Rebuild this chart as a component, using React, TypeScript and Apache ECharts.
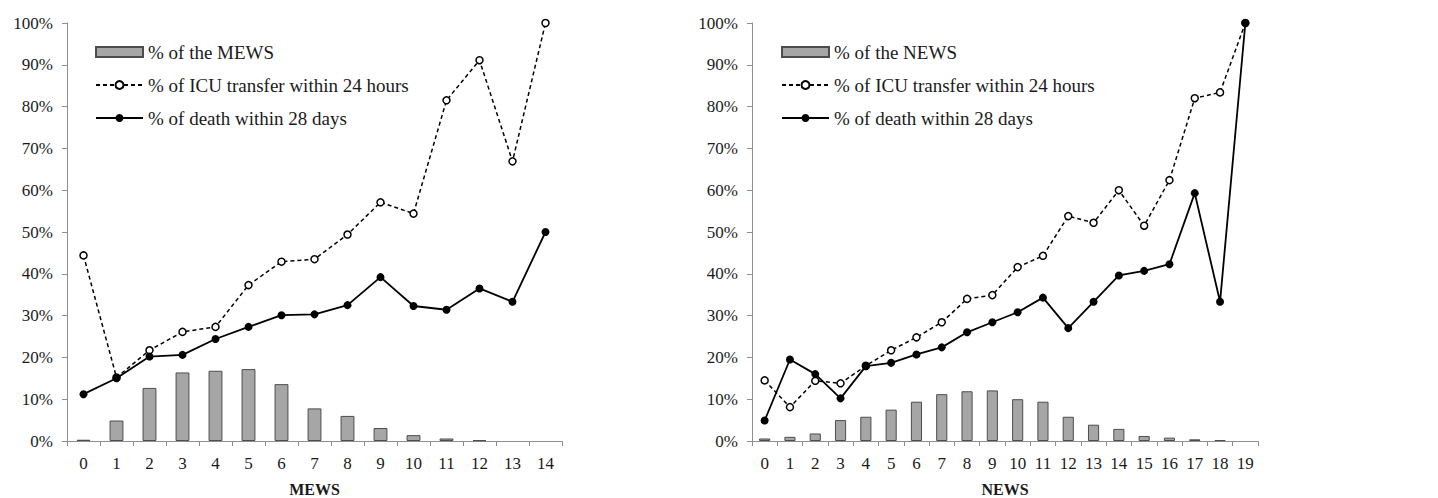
import React, { useEffect, useRef } from "react";
import * as echarts from "echarts";

const mewsCats = ["0","1","2","3","4","5","6","7","8","9","10","11","12","13","14"];
const mewsPct = [0.3, 4.9, 12.7, 16.4, 16.8, 17.2, 13.6, 7.8, 6.0, 3.1, 1.4, 0.6, 0.2, 0, 0];
const mewsIcu = [44.4, 15.2, 21.7, 26.1, 27.3, 37.3, 42.9, 43.5, 49.4, 57.1, 54.4, 81.5, 91.1, 66.9, 100];
const mewsDeath = [11.2, 15.0, 20.2, 20.6, 24.4, 27.3, 30.1, 30.3, 32.5, 39.2, 32.3, 31.4, 36.5, 33.3, 50];

const newsCats = ["0","1","2","3","4","5","6","7","8","9","10","11","12","13","14","15","16","17","18","19"];
const newsPct = [0.6, 1.0, 1.8, 5.0, 5.8, 7.5, 9.4, 11.2, 11.9, 12.1, 10.0, 9.4, 5.8, 3.9, 2.9, 1.2, 0.8, 0.4, 0.2, 0];
const newsIcu = [14.5, 8.1, 14.4, 13.8, 18.0, 21.7, 24.8, 28.4, 34.0, 34.9, 41.6, 44.3, 53.8, 52.2, 60.0, 51.5, 62.4, 82.0, 83.4, 100];
const newsDeath = [4.9, 19.5, 16.0, 10.2, 17.9, 18.7, 20.7, 22.4, 26.0, 28.4, 30.8, 34.3, 27.0, 33.3, 39.6, 40.7, 42.3, 59.3, 33.3, 100];

const yTicks = [0, 10, 20, 30, 40, 50, 60, 70, 80, 90, 100];

const FONT = "'Liberation Serif', 'Times New Roman', serif";
const AXIS_COLOR = "#8f8f8f";
const TEXT_COLOR = "#1a1a1a";

export default function App() {
  const ref = useRef<HTMLDivElement>(null);
  useEffect(() => {
    document.body.style.margin = "0";
    const chart = echarts.init(ref.current!, null, { renderer: "svg" });

    const xAxisBase = (cats: string[], name: string, gridIndex: number) => ({
      type: "category",
      gridIndex,
      data: cats,
      name,
      nameLocation: "middle",
      nameGap: 40,
      nameTextStyle: { fontFamily: FONT, fontSize: 16, fontWeight: "bold", color: TEXT_COLOR },
      axisLine: { lineStyle: { color: AXIS_COLOR, width: 1 } },
      axisTick: { show: true, length: 5, lineStyle: { color: AXIS_COLOR } },
      axisLabel: { fontFamily: FONT, fontSize: 17, color: TEXT_COLOR, margin: 14, interval: 0 },
      splitLine: { show: false },
    });
    const yAxisBase = (gridIndex: number) => ({
      type: "value",
      gridIndex,
      min: yTicks[0],
      max: yTicks[yTicks.length - 1],
      interval: 10,
      axisLine: { show: true, lineStyle: { color: AXIS_COLOR, width: 1 } },
      axisTick: { show: true, length: 5, lineStyle: { color: AXIS_COLOR } },
      axisLabel: { fontFamily: FONT, fontSize: 17, color: TEXT_COLOR, margin: 14, formatter: "{value}%" },
      splitLine: { show: false },
    });
    const barStyle = { color: "#a6a6a6", borderColor: "#4d4d4d", borderWidth: 1 };
    const barData = (arr: number[]) => arr.map((v) => (v === 0 ? null : v));
    const icuSeries = (data: number[], idx: number) => ({
      name: "% of ICU transfer within 24 hours",
      type: "line",
      xAxisIndex: idx,
      yAxisIndex: idx,
      data,
      symbol: "circle",
      symbolSize: 7,
      lineStyle: { color: "#000", width: 1.5, type: [4, 3] },
      itemStyle: { color: "#fff", borderColor: "#000", borderWidth: 1.5 },
      z: 3,
    });
    const deathSeries = (data: number[], idx: number) => ({
      name: "% of death within 28 days",
      type: "line",
      xAxisIndex: idx,
      yAxisIndex: idx,
      data,
      symbol: "circle",
      symbolSize: 8,
      lineStyle: { color: "#000", width: 1.8 },
      itemStyle: { color: "#000" },
      z: 4,
    });
    const legendBase = (left: number, barName: string) => ({
      orient: "vertical",
      left,
      top: 37,
      itemWidth: 47,
      itemHeight: 10,
      itemGap: 13,
      data: [
        { name: barName, icon: "rect" },
        { name: "% of ICU transfer within 24 hours" },
        { name: "% of death within 28 days" },
      ],
      textStyle: { fontFamily: FONT, fontSize: 19, color: TEXT_COLOR, lineHeight: 20 },
      inactiveColor: "#ccc",
    });

    chart.setOption({
      animation: false,
      backgroundColor: "#fff",
      grid: [
        { left: 67, right: 876, top: 23, bottom: 57, outerBoundsMode: "none" },
        { left: 752, right: 180, top: 23, bottom: 57, outerBoundsMode: "none" },
      ],
      legend: [legendBase(90, "% of the MEWS"), legendBase(776, "% of the NEWS")],
      xAxis: [xAxisBase(mewsCats, "MEWS", 0), xAxisBase(newsCats, "NEWS", 1)],
      yAxis: [yAxisBase(0), yAxisBase(1)],
      series: [
        { name: "% of the MEWS", type: "bar", xAxisIndex: 0, yAxisIndex: 0, data: barData(mewsPct), barWidth: "42%", itemStyle: barStyle },
        icuSeries(mewsIcu, 0),
        deathSeries(mewsDeath, 0),
        { name: "% of the NEWS", type: "bar", xAxisIndex: 1, yAxisIndex: 1, data: barData(newsPct), barWidth: "44%", itemStyle: barStyle },
        icuSeries(newsIcu, 1),
        deathSeries(newsDeath, 1),
      ],
    });
    return () => chart.dispose();
  }, []);
  return <div ref={ref} style={{ position: "fixed", left: 0, top: 0, width: 1438, height: 498 }} />;
}
